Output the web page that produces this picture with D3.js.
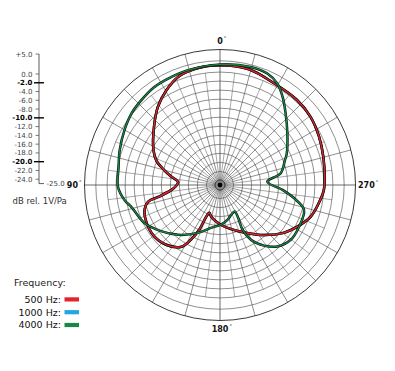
<!DOCTYPE html>
<html>
<head>
<meta charset="utf-8">
<script src="https://cdnjs.cloudflare.com/ajax/libs/d3/7.8.5/d3.min.js"></script>
<style>
  body { margin: 0; background: #fff; }
  svg { display: block; font-family: "DejaVu Sans", Verdana, sans-serif; }
</style>
</head>
<body>
<div id="chart"></div>
<script>
const svgWidth = 395, svgHeight = 371;
const cx = 220, cy = 185, outerR = 135.5;

// polar grid rings (dB) and left axis ticks
const ringLevels = [5, 2.5, 0, -2, -4, -6, -8, -10, -12, -14, -16, -18, -20, -22, -24];
const axisTicks = [5, 0, -2, -4, -6, -8, -10, -12, -14, -16, -18, -20, -22, -24];
const boldTicks = [-2, -10, -20];
const angleLabels = ["0", "90", "180", "270"];

// legend
const freqNames = ["500 Hz:", "1000 Hz:", "4000 Hz:"];
const freqColors = ["#e3242b", "#22a7e4", "#148a44"];

// curves: angle in degrees counter-clockwise from front (90 = left), level in dB
const ang500 = [0, 12, 21, 29.5, 38.5, 48.5, 62, 69, 75, 80, 86, 91, 96, 101, 103, 110, 125, 138, 148, 152, 155, 156.5, 159, 164, 170, 181, 197, 207, 221, 233, 242, 251, 262, 267, 273, 285, 296, 307, 318, 332, 346];
const db500  = [1.5, 1.3, 0.7, -0.9, -2.9, -5.5, -8.3, -9.9, -12.2, -14.0, -15.7, -15.3, -14.1, -11.1, -8.7, -7.2, -6.5, -7.2, -8.9, -11.3, -14.0, -17.3, -18.4, -17.8, -17.2, -16.2, -14.6, -13.2, -10.3, -7.4, -5.5, -3.7, -2.5, -2.0, -1.8, -1.3, -0.6, 0.1, 0.4, 0.5, 1.4];

const ang1000 = [0, 12, 21, 29.5, 38.5, 48.5, 62, 69, 75, 80, 86, 91, 96, 101, 103, 110, 125, 138, 148, 152, 155, 156.5, 159, 164, 170, 181, 197, 207, 221, 233, 242, 251, 262, 267, 273, 285, 296, 307, 318, 332, 346];
const db1000  = [1.5, 1.3, 0.7, -0.9, -2.9, -5.5, -8.3, -9.9, -12.2, -14.0, -15.7, -15.3, -14.1, -11.1, -8.7, -7.2, -6.5, -7.2, -8.9, -11.3, -14.0, -17.3, -18.4, -17.8, -17.2, -16.2, -14.6, -13.2, -10.3, -7.4, -5.5, -3.7, -2.5, -2.0, -1.8, -1.3, -0.6, 0.1, 0.4, 0.5, 1.4];

const ang4000 = [0, 16, 26, 34, 43, 51, 60, 71, 80, 91, 99, 104, 117, 128, 140, 155, 168, 181, 192, 204, 209.3, 209.2, 206.8, 209.4, 216, 223, 232, 242, 253.5, 259, 265.5, 274, 281, 291, 295, 307.5, 317.5, 324.5, 330.5, 337, 345.5];
const db4000  = [1.7, 1.4, 1.2, 1.1, 0.6, 0.2, -0.6, -1.5, -2.2, -2.4, -3.6, -4.8, -6.3, -8.4, -10.6, -13.3, -15.3, -16.2, -17.1, -18.2, -18.3, -17.0, -13.9, -11.1, -8.4, -6.4, -5.2, -5.2, -5.6, -7.9, -11.1, -14.5, -11.3, -9.6, -8.7, -6.2, -3.5, -1.1, 0.8, 1.8, 2.0];

const series = [
  {ang: ang1000, db: db1000, color: freqColors[1]},
  {ang: ang500, db: db500, color: freqColors[0]},
  {ang: ang4000, db: db4000, color: freqColors[2]}
];

const svg = d3.select("#chart").append("svg")
  .attr("width", svgWidth)
  .attr("height", svgHeight);

const r = d3.scaleLinear().domain([-25, 5]).range([0, outerR]);
const rad = a => a * Math.PI / 180;

const g = svg.append("g").attr("transform", "translate(" + cx + "," + cy + ")");

// spokes
const major = d3.range(0, 360, 15);
const minor = d3.range(7.5, 360, 15);
g.selectAll(".minor").data(minor).join("line")
  .attr("x1", d => 5 * Math.sin(rad(d))).attr("y1", d => -5 * Math.cos(rad(d)))
  .attr("x2", d => r(0) * Math.sin(rad(d))).attr("y2", d => -r(0) * Math.cos(rad(d)))
  .attr("stroke", "#555").attr("stroke-width", 0.5);
g.selectAll(".major").data(major).join("line")
  .attr("x1", d => 5 * Math.sin(rad(d))).attr("y1", d => -5 * Math.cos(rad(d)))
  .attr("x2", d => outerR * Math.sin(rad(d))).attr("y2", d => -outerR * Math.cos(rad(d)))
  .attr("stroke", "#444").attr("stroke-width", d => d % 90 == 0 ? 0.8 : 0.6);

// rings
g.selectAll(".ring").data(ringLevels).join("circle")
  .attr("r", d => r(d))
  .attr("fill", "none")
  .attr("stroke", d => d == 5 ? "#222" : "#444")
  .attr("stroke-width", d => d == 5 ? 0.9 : 0.6);

// centre bullseye
g.append("circle").attr("r", 5).attr("fill", "#8a8a8a").attr("stroke", "#222").attr("stroke-width", 0.8);
g.append("circle").attr("r", 2.4).attr("fill", "#000");

// curves
const line = d3.lineRadial()
  .angle(d => -rad(d[0]))
  .radius(d => r(d[1]))
  .curve(d3.curveCatmullRomClosed.alpha(0.5));

series.forEach(s => {
  const pts = s.ang.map((a, i) => [a, s.db[i]]);
  g.append("path").attr("d", line(pts))
    .attr("fill", "none").attr("stroke", "#111").attr("stroke-width", 2.5);
  g.append("path").attr("d", line(pts))
    .attr("fill", "none").attr("stroke", s.color).attr("stroke-width", 1.3);
});

// angle labels
const labelPos = [[0, -144], [-142, 0], [0, 144], [138, 0]];
angleLabels.forEach((t, i) => {
  const p = labelPos[i];
  const anchor = i == 1 ? "end" : (i == 3 ? "start" : "middle");
  const txt = g.append("text")
    .attr("x", p[0]).attr("y", p[1])
    .attr("dy", "0.36em")
    .attr("text-anchor", anchor)
    .attr("font-size", "8px").attr("font-weight", "bold").attr("fill", "#111")
    .text(t);
  const bb = txt.node().getBBox();
  g.append("text")
    .attr("x", bb.x + bb.width + 0.6).attr("y", p[1] - 1.5)
    .attr("font-size", "5px").attr("fill", "#111")
    .text("°");
});

// left dB axis
const ay = d3.scaleLinear().domain([-25, 0, 5]).range([183.6, 74, 54]);
const axisX = 39;
svg.append("path")
  .attr("d", "M" + axisX + "," + ay(5) + "V" + ay(-25) + "H" + (axisX + 5))
  .attr("fill", "none").attr("stroke", "#333").attr("stroke-width", 0.8);

svg.selectAll(".tick").data(axisTicks).join("line")
  .attr("x1", d => boldTicks.includes(d) ? 34 : 35.5)
  .attr("x2", d => boldTicks.includes(d) ? 44 : axisX)
  .attr("y1", d => ay(d)).attr("y2", d => ay(d))
  .attr("stroke", d => boldTicks.includes(d) ? "#000" : "#444")
  .attr("stroke-width", d => boldTicks.includes(d) ? 1.4 : 0.7);

svg.selectAll(".ticklabel").data(axisTicks).join("text")
  .attr("x", 32.5).attr("y", d => ay(d)).attr("dy", "0.36em")
  .attr("text-anchor", "end")
  .attr("font-size", "7px")
  .attr("font-weight", d => boldTicks.includes(d) ? "bold" : "normal")
  .attr("fill", d => boldTicks.includes(d) ? "#000" : "#444")
  .text(d => (d > 0 ? "+" : "") + d.toFixed(1));

svg.append("text")
  .attr("x", 46.5).attr("y", ay(-25)).attr("dy", "0.36em")
  .attr("font-size", "7px").attr("fill", "#444")
  .text("-25.0");

svg.append("text")
  .attr("x", 12.5).attr("y", 200.5).attr("dy", "0.36em")
  .attr("font-size", "8.5px").attr("fill", "#333")
  .text("dB rel. 1V/Pa");

// legend
svg.append("text")
  .attr("x", 14).attr("y", 282.7).attr("dy", "0.36em")
  .attr("font-size", "9.5px").attr("fill", "#222")
  .text("Frequency:");

const leg = svg.selectAll(".leg").data(freqNames).join("g")
  .attr("transform", (d, i) => "translate(0," + (299.3 + i * 12.8) + ")");
leg.append("text")
  .attr("x", 61).attr("dy", "0.36em")
  .attr("text-anchor", "end")
  .attr("font-size", "9.5px").attr("fill", "#111")
  .text(d => d);
leg.append("rect")
  .attr("x", 64.5).attr("y", -2).attr("width", 14.5).attr("height", 4.2)
  .attr("fill", (d, i) => freqColors[i]);
</script>
</body>
</html>
